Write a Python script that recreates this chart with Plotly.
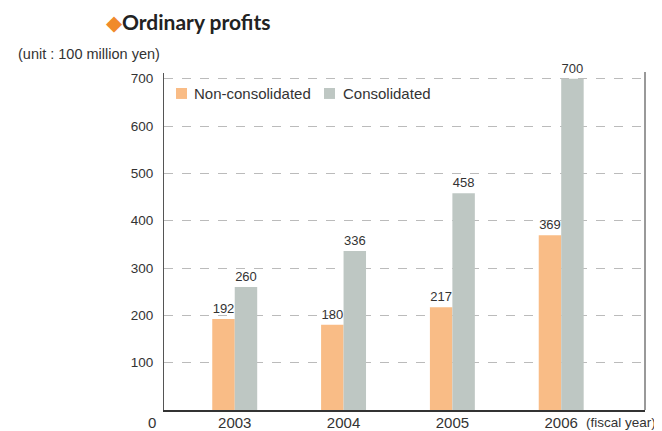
import plotly.graph_objects as go

years = ["2003", "2004", "2005", "2006"]
non_consolidated = [192, 180, 217, 369]
consolidated = [260, 336, 458, 700]
y_ticks = [100, 200, 300, 400, 500, 600, 700]
series_names = ["Non-consolidated", "Consolidated"]

orange = "#F9BC86"
grey = "#BEC7C3"
txt = "#333333"
font_main = "Liberation Sans, Arial, sans-serif"

fig = go.Figure()
fig.add_trace(go.Bar(
    x=years, y=non_consolidated, name=series_names[0],
    marker=dict(color=orange, line=dict(width=0)),
    text=[str(v) for v in non_consolidated], textposition="outside",
    textfont=dict(family=font_main, size=13, color=txt), cliponaxis=False,
))
fig.add_trace(go.Bar(
    x=years, y=consolidated, name=series_names[1],
    marker=dict(color=grey, line=dict(width=0)),
    text=[str(v) for v in consolidated], textposition="outside",
    textfont=dict(family=font_main, size=13, color=txt), cliponaxis=False,
))

annotations = [
    dict(text="<span style='color:#F08A2C'>◆</span><b>Ordinary profits</b>",
         xref="paper", yref="paper", x=-0.125, y=1.154, xanchor="left", yanchor="middle",
         showarrow=False, font=dict(family="Lato, sans-serif", size=21, color="#222222")),
    dict(text="(unit : 100 million yen)", xref="paper", yref="paper",
         x=-0.3077, y=1.056, xanchor="left", yanchor="middle", showarrow=False,
         font=dict(size=14.5, color=txt)),
    dict(text="0", xref="paper", yref="paper", x=-0.025, y=-0.036,
         xanchor="center", yanchor="middle", showarrow=False,
         font=dict(size=15, color=txt)),
    dict(text="(fiscal year)", xref="paper", yref="paper", x=0.873, y=-0.036,
         xanchor="left", yanchor="middle", showarrow=False,
         font=dict(size=13.5, color=txt)),
    dict(text=series_names[0], xref="paper", yref="paper", x=0.0582, y=0.939,
         xanchor="left", yanchor="middle", showarrow=False,
         font=dict(size=15, color=txt)),
    dict(text=series_names[1], xref="paper", yref="paper", x=0.368, y=0.939,
         xanchor="left", yanchor="middle", showarrow=False,
         font=dict(size=15, color=txt)),
]

shapes = [
    # right border of plot area
    dict(type="line", xref="paper", yref="paper", x0=1, x1=1, y0=0, y1=1.003,
         line=dict(color="#777777", width=1.5)),
    # legend swatches
    dict(type="rect", xref="paper", yref="paper", x0=0.0250, x1=0.0478, y0=0.923, y1=0.9555,
         fillcolor=orange, line=dict(width=0)),
    dict(type="rect", xref="paper", yref="paper", x0=0.3326, x1=0.3555, y0=0.923, y1=0.9555,
         fillcolor=grey, line=dict(width=0)),
]

fig.update_layout(
    width=654, height=423,
    margin=dict(l=156, r=17, t=65, b=21),
    paper_bgcolor="white", plot_bgcolor="white",
    barmode="group", bargap=0.587, bargroupgap=0,
    font=dict(family=font_main, size=13, color=txt),
    showlegend=False,
    xaxis=dict(
        type="category", range=[-0.65, 3.77], automargin=False,
        showline=True, linecolor="#333333", linewidth=1.5,
        ticks="", showgrid=False, zeroline=False,
        tickfont=dict(size=15, color=txt), ticklabelstandoff=-2,
    ),
    yaxis=dict(
        range=[0, 712], tickvals=y_ticks, ticktext=[str(v) for v in y_ticks],
        automargin=False,
        showline=True, linecolor="#555555", linewidth=1.2,
        ticks="inside", ticklen=8, tickcolor="#BBBBBB",
        showgrid=True, gridcolor="#BBBBBB", griddash="dash", gridwidth=1,
        zeroline=False, tickfont=dict(size=13.5, color=txt), ticklabelstandoff=7,
    ),
    annotations=annotations,
    shapes=shapes,
)

fig.write_html("out.html")
